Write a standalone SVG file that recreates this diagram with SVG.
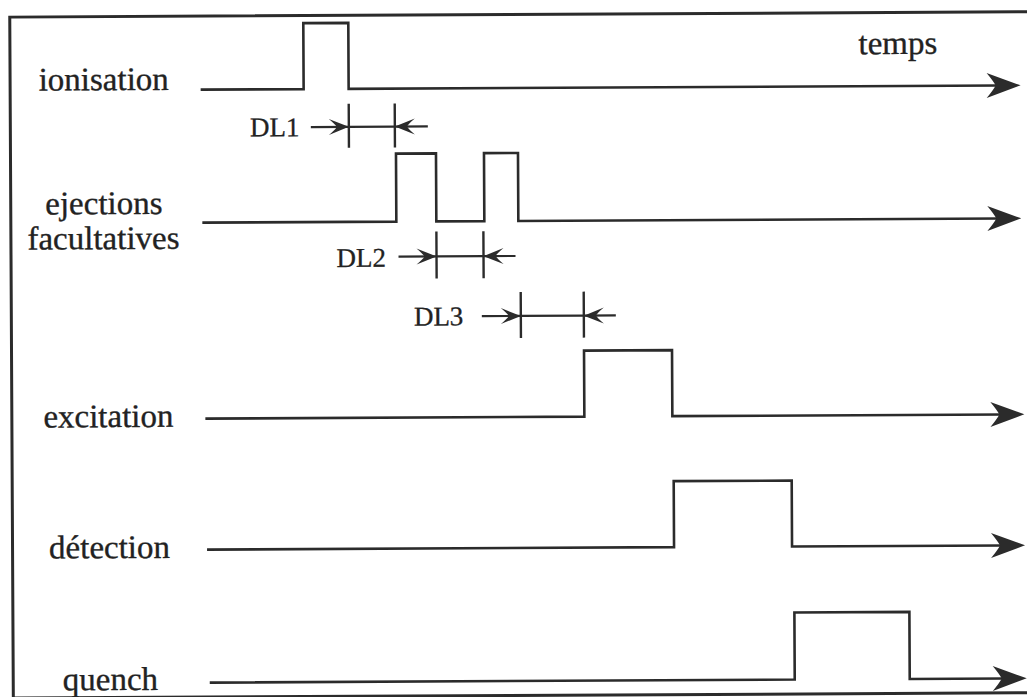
<svg xmlns="http://www.w3.org/2000/svg" width="1027" height="697" viewBox="0 0 1027 697">
  <style>
    .lbl { font-family: "Liberation Serif", "Times New Roman", serif; font-size: 33px; fill: #222; stroke: #222; stroke-width: 0.35; }
    .dl { font-family: "Liberation Serif", "Times New Roman", serif; font-size: 27px; fill: #222; stroke: #222; stroke-width: 0.3; }
    .sig { fill: none; stroke: #2b2b2b; stroke-width: 2.6; stroke-linejoin: miter; }
    .dim { fill: none; stroke: #2b2b2b; stroke-width: 2.2; }
    .tick { fill: none; stroke: #2b2b2b; stroke-width: 2.4; }
  </style>
  <defs>
    <marker id="bigArrow" markerUnits="userSpaceOnUse" viewBox="-14 -14 38 28" markerWidth="38" markerHeight="28" refX="0" refY="0" orient="auto">
      <path d="M22,0 L-12,-12.5 Q-5,-4 -3,0 Q-5,4 -12,12.5 Z" fill="#2b2b2b"/>
    </marker>
    <marker id="smallArrow" markerUnits="userSpaceOnUse" viewBox="-22 -9 23 18" markerWidth="23" markerHeight="18" refX="0" refY="0" orient="auto">
      <path d="M0,0 L-20,-8 Q-14,-3 -12,0 Q-14,3 -20,8 Z" fill="#2b2b2b"/>
    </marker>
  </defs>
  <rect width="1027" height="697" fill="#ffffff"/>
  <g transform="rotate(-0.3 513 348)">
    <g id="frame">
      <rect x="11.5" y="14.5" width="1030" height="681" fill="none" stroke="#2b2b2b" stroke-width="3"/>
    </g>
    <g id="temps"><text class="lbl" x="860" y="56">temps</text></g>
    <g id="ionisation"><text class="lbl" x="40" y="88">ionisation</text></g>
    <g id="ejections">
      <text class="lbl" x="46" y="212">ejections</text>
      <text class="lbl" x="28" y="247">facultatives</text>
    </g>
    <g id="excitation"><text class="lbl" x="43" y="425">excitation</text></g>
    <g id="detection"><text class="lbl" x="48" y="556">détection</text></g>
    <g id="quench"><text class="lbl" x="61" y="688">quench</text></g>
    <g id="DL1"><text class="dl" x="251" y="135">DL1</text></g>
    <g id="DL2"><text class="dl" x="337" y="266">DL2</text></g>
    <g id="DL3"><text class="dl" x="414" y="325">DL3</text></g>
    <g id="connectors">
      <path class="sig" d="M202,88 H305 V22 H350 V88 H1000" marker-end="url(#bigArrow)"/>
      <path class="sig" d="M203,221 H397 V153 H437 V221 H485 V153 H519 V221 H1000" marker-end="url(#bigArrow)"/>
      <path class="sig" d="M205,417 H584 V351 H672 V417 H1002" marker-end="url(#bigArrow)"/>
      <path class="sig" d="M206,548 H673 V482 H791 V548 H1002" marker-end="url(#bigArrow)"/>
      <path class="sig" d="M208,681 H793 V614 H908 V681 H1003" marker-end="url(#bigArrow)"/>
      <!-- DL1 -->
      <path class="tick" d="M350,103 V147 M396,103 V147"/>
      <path class="dim" d="M350,126 H396"/>
      <path class="dim" d="M312,126 H350" marker-end="url(#smallArrow)"/>
      <path class="dim" d="M429,126 H396" marker-end="url(#smallArrow)"/>
      <!-- DL2 -->
      <path class="tick" d="M437,231 V278 M484,231 V278"/>
      <path class="dim" d="M437,256 H484"/>
      <path class="dim" d="M399,256 H437" marker-end="url(#smallArrow)"/>
      <path class="dim" d="M516,256 H484" marker-end="url(#smallArrow)"/>
      <!-- DL3 -->
      <path class="tick" d="M521,292 V338 M584,292 V338"/>
      <path class="dim" d="M521,316 H584"/>
      <path class="dim" d="M482,316 H521" marker-end="url(#smallArrow)"/>
      <path class="dim" d="M616,316 H584" marker-end="url(#smallArrow)"/>
    </g>
  </g>
</svg>
